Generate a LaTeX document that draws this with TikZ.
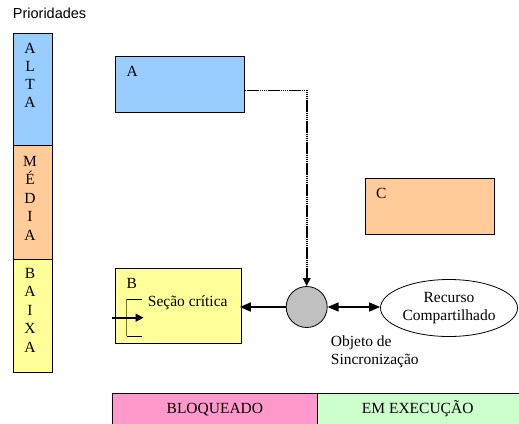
\documentclass[tikz,border=0pt]{standalone}
\usepackage{fontspec}
\setmainfont{Liberation Serif}
\newfontfamily\headsans{Liberation Sans}
\usetikzlibrary{arrows.meta,calc,shapes.geometric}

\definecolor{altablue}{HTML}{99CCFF}
\definecolor{mediaorange}{HTML}{FFCC99}
\definecolor{baixayellow}{HTML}{FFFF99}
\definecolor{blockpink}{HTML}{FF99CC}
\definecolor{rungreen}{HTML}{CCFFCC}
\definecolor{syncgray}{HTML}{C0C0C0}
\definecolor{bracketgray}{HTML}{6E6E4A}

\begin{document}
\begin{tikzpicture}[x=1pt,y=-1pt,
  txt/.style={font=\fontsize{15.5}{17.5}\selectfont, inner sep=0pt},
  band/.style={draw=black, line width=0.8pt, anchor=north west, inner sep=0pt, minimum width=38.4pt},
  proc/.style={draw=black, line width=0.8pt, anchor=north west, inner sep=0pt},
  bigtip/.style={-{Triangle[length=11pt,width=9pt]}},
  link/.style={line width=1.5pt, draw=black}]

\useasboundingbox (0,0) rectangle (519,423);
\clip (0,0) rectangle (519,423);

% priority column
\node[font=\headsans\fontsize{14.5}{17}\selectfont, inner sep=0pt, anchor=base west] (prio) at (12.7,18.5) {Prioridades};
\node[band, fill=altablue,    minimum height=112.3pt] (alta)  at (13.3,32.7) {};
\node[band, fill=mediaorange, minimum height=114.3pt] (media) at (13.3,145) {};
\node[band, fill=baixayellow, minimum height=113pt]   (baixa) at (13.3,259.3) {};
\foreach \ch [count=\i] in {A,L,T,A}
  \node[txt, anchor=base] (alta-\i) at (30,{53.3+(\i-1)*18.2}) {\ch};
\foreach \ch [count=\i] in {M,É,D,I,A}
  \node[txt, anchor=base] (media-\i) at (30,{166+(\i-1)*18.5}) {\ch};
\foreach \ch [count=\i] in {B,A,I,X,A}
  \node[txt, anchor=base] (baixa-\i) at (30,{278+(\i-1)*18.5}) {\ch};

% processes
\node[proc, fill=altablue,    minimum width=129pt, minimum height=56pt] (A) at (115,56) {};
\node[proc, fill=mediaorange, minimum width=129pt, minimum height=56pt] (C) at (365,178) {};
\node[proc, fill=baixayellow, minimum width=126pt, minimum height=75pt] (B) at (115,268.3) {};
\node[txt, anchor=base west] (A-name) at ($(A.north west)+(11.5,20)$) {A};
\node[txt, anchor=base west] (B-name) at ($(B.north west)+(11.5,20)$) {B};
\node[txt, anchor=base west] (C-name) at ($(C.north west)+(11,20)$) {C};

% critical section inside B
\node[txt, anchor=base west] (crit) at (147.7,306) {Seção crítica};
\coordinate (brtop) at (126.7,299.3);
\coordinate (brbot) at (126.7,336);
\draw[bracketgray, line width=1pt] (brtop) -- (brbot);
\draw[black, line width=0.9pt] (brtop) -- ++(15.5,0);
\draw[black, line width=0.9pt] (brbot) -- ++(15.5,0);
\coordinate (entry) at (112,317.7);
\draw[line width=1.8pt, -{Triangle[length=8pt,width=8pt]}] (entry) -- (143.5,317.7);

% synchronisation object and shared resource
\node[circle, draw=black, line width=0.8pt, fill=syncgray, minimum size=41pt, inner sep=0pt] (sync) at (306.7,307) {};
\node[ellipse, draw=black, line width=0.8pt, fill=white, minimum width=137pt, minimum height=57pt,
      inner sep=0pt, align=center, txt] (res) at (449,308) {Recurso\\Compartilhado};
\node[txt, anchor=north west, align=left] (sync-name) at (330.7,336) {Objeto de\\Sincronização};

% connectors
\coordinate (A-out) at ($(A.north east)!0.607!(A.south east)$);
\draw[line width=1.8pt, dash pattern=on 1.6pt off 0.5pt, -{Triangle[length=8pt,width=7.5pt]}]
  (A-out) -| (sync.north);
\draw[link, bigtip, shorten >=-2pt] (sync.west) -- (sync.west -| B.east);
\draw[link, {Triangle[length=11pt,width=9pt]}-{Triangle[length=11pt,width=9pt]}] (sync.east) -- (sync.east -| res.west);

% state legend
\node[proc, fill=blockpink, minimum width=204.4pt, minimum height=45pt] (blocked) at (112.3,393.3) {};
\node[proc, fill=rungreen,  minimum width=215pt,   minimum height=45pt] (running) at (316.7,393.3) {};
\node[txt, anchor=base] (blocked-name) at ($(blocked.north west)!0.5!(blocked.north east)+(0,19.7)$) {BLOQUEADO};
\node[txt, anchor=base] (running-name) at ($(running.north west)+(101,19.7)$) {EM EXECUÇÃO};
\end{tikzpicture}
\end{document}
